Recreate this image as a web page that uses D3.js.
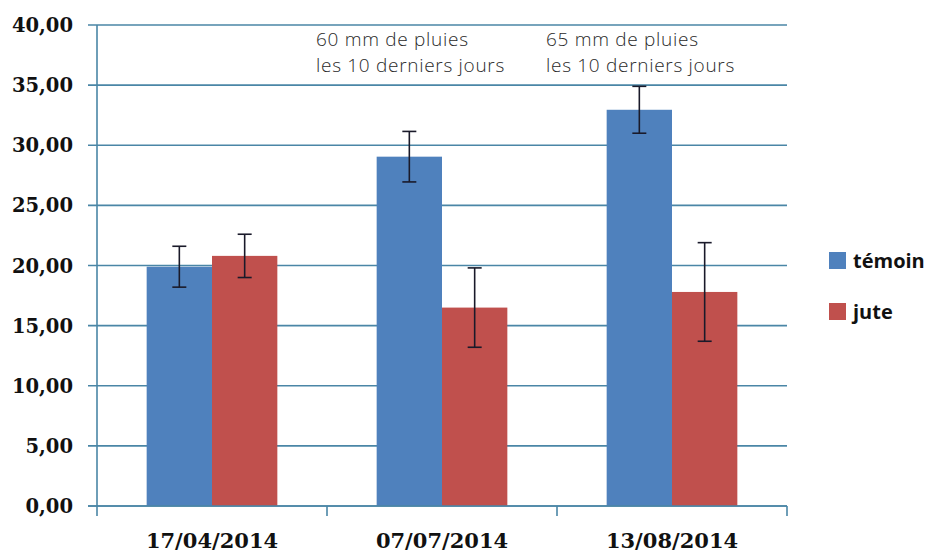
<!DOCTYPE html>
<html>
<head>
<meta charset="utf-8">
<script src="https://cdn.jsdelivr.net/npm/d3@7"></script>
<style>
  body { margin: 0; background: #fff; }
  svg { display: block; }
</style>
</head>
<body>
<script>
let width = 933
let height = 554

// data
let dates = ['17/04/2014', '07/07/2014', '13/08/2014']
let series = ['témoin', 'jute']
let temoin = [19.9, 29.05, 32.95]
let jute = [20.8, 16.5, 17.8]
let temoinErr = [1.7, 2.1, 1.95]
let juteErr = [1.8, 3.3, 4.1]
let yTicks = [0, 5, 10, 15, 20, 25, 30, 35, 40]
let notes = [
  { date: '07/07/2014', lines: ['60 mm de pluies', 'les 10 derniers jours'] },
  { date: '13/08/2014', lines: ['65 mm de pluies', 'les 10 derniers jours'] }
]

let colors = { 'témoin': '#4f81bd', 'jute': '#c0504d' }
let axisColor = '#4a86a6'

let rows = dates.map((d, i) => ({
  date: d,
  bars: [
    { key: 'témoin', value: temoin[i], err: temoinErr[i] },
    { key: 'jute', value: jute[i], err: juteErr[i] }
  ]
}))

let margin = { left: 97, right: 146, top: 25, bottom: 48 }

let svg = d3.select('body').append('svg')
  .attr('width', width)
  .attr('height', height)

let x = d3.scaleBand()
  .domain(dates)
  .range([margin.left, width - margin.right])
  .paddingInner(0)
  .paddingOuter(0)

let xs = d3.scaleBand()
  .domain(series)
  .range([0, x.bandwidth()])
  .paddingOuter(0.76)
  .paddingInner(0)

let y = d3.scaleLinear()
  .domain([0, 40])
  .range([height - margin.bottom, margin.top])

let fmt = v => d3.format('.2f')(v).replace('.', ',')

// gridlines
svg.append('g')
  .selectAll('line')
  .data(yTicks)
  .join('line')
  .attr('x1', margin.left - 9)
  .attr('x2', width - margin.right)
  .attr('y1', d => y(d))
  .attr('y2', d => y(d))
  .style('stroke', axisColor)
  .style('stroke-width', 1.6)

// y axis line
svg.append('line')
  .attr('x1', margin.left)
  .attr('x2', margin.left)
  .attr('y1', y(40))
  .attr('y2', y(0) + 10)
  .style('stroke', axisColor)
  .style('stroke-width', 1.6)

// y tick labels
svg.append('g')
  .selectAll('text')
  .data(yTicks)
  .join('text')
  .attr('x', 73)
  .attr('y', d => y(d))
  .attr('dy', '0.36em')
  .attr('text-anchor', 'end')
  .style('font-family', 'DejaVu Serif')
  .style('font-weight', 'bold')
  .style('font-size', '19.5px')
  .style('fill', '#111')
  .text(fmt)

// x category separators
svg.append('g')
  .selectAll('line')
  .data(dates.slice(1).concat(['end']))
  .join('line')
  .attr('x1', d => d === 'end' ? width - margin.right : x(d))
  .attr('x2', d => d === 'end' ? width - margin.right : x(d))
  .attr('y1', y(0))
  .attr('y2', y(0) + 10)
  .style('stroke', axisColor)
  .style('stroke-width', 1.6)

// bars
let groups = svg.append('g')
  .selectAll('g')
  .data(rows)
  .join('g')
  .attr('transform', d => 'translate(' + x(d.date) + ',0)')

groups.selectAll('rect')
  .data(d => d.bars)
  .join('rect')
  .attr('x', d => xs(d.key))
  .attr('width', xs.bandwidth())
  .attr('y', d => y(d.value))
  .attr('height', d => y(0) - y(d.value))
  .style('fill', d => colors[d.key])

// redraw x axis line over bars
svg.append('line')
  .attr('x1', margin.left - 9)
  .attr('x2', width - margin.right)
  .attr('y1', y(0))
  .attr('y2', y(0))
  .style('stroke', axisColor)
  .style('stroke-width', 1.6)

// error bars
let err = groups.selectAll('g.err')
  .data(d => d.bars)
  .join('g')
  .attr('class', 'err')
  .attr('transform', d => 'translate(' + (xs(d.key) + xs.bandwidth() / 2) + ',0)')
  .style('stroke', '#1a1a2a')
  .style('stroke-width', 1.6)

err.append('line')
  .attr('y1', d => y(d.value + d.err))
  .attr('y2', d => y(d.value - d.err))
err.append('line')
  .attr('x1', -7).attr('x2', 7)
  .attr('y1', d => y(d.value + d.err))
  .attr('y2', d => y(d.value + d.err))
err.append('line')
  .attr('x1', -7).attr('x2', 7)
  .attr('y1', d => y(d.value - d.err))
  .attr('y2', d => y(d.value - d.err))

// x labels
svg.append('g')
  .selectAll('text')
  .data(dates)
  .join('text')
  .attr('x', d => x(d) + x.bandwidth() / 2)
  .attr('y', 548)
  .attr('text-anchor', 'middle')
  .style('font-family', 'DejaVu Serif')
  .style('font-weight', 'bold')
  .style('font-size', '21px')
  .style('fill', '#111')
  .text(d => d)

// rain notes, one text per line
let note = svg.append('g')
  .selectAll('g')
  .data(notes)
  .join('g')
  .attr('transform', d => 'translate(' + (x(d.date) - 11) + ',0)')

note.selectAll('text')
  .data(d => d.lines)
  .join('text')
  .attr('y', (d, i) => 46 + i * 26)
  .style('font-family', 'Open Sans')
  .style('font-weight', 300)
  .style('font-size', '19px')
  .style('letter-spacing', '0.7px')
  .style('fill', '#2a2a2a')
  .text(d => d)

// legend
let legend = svg.append('g')
  .selectAll('g')
  .data(series)
  .join('g')
  .attr('transform', (d, i) => 'translate(829,' + (252 + i * 51) + ')')

legend.append('rect')
  .attr('width', 17)
  .attr('height', 17)
  .style('fill', d => colors[d])

legend.append('text')
  .attr('x', 24)
  .attr('y', 9)
  .attr('dy', '0.35em')
  .style('font-family', 'Open Sans')
  .style('font-weight', 'bold')
  .style('font-size', '20px')
  .style('fill', '#111')
  .text(d => d)
</script>
</body>
</html>
